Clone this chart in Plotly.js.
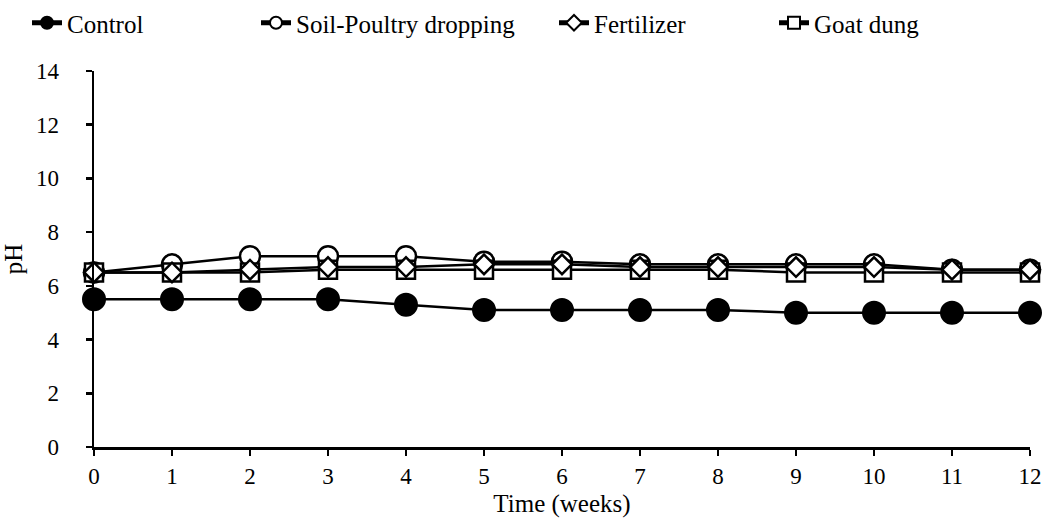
<!DOCTYPE html>
<html>
<head>
<meta charset="utf-8">
<script src="https://cdn.plot.ly/plotly-3.0.1.min.js"></script>
<style>
html,body{margin:0;padding:0;background:#fff;}
#chart{width:1052px;height:527px;}
</style>
</head>
<body>
<div id="chart"></div>
<script>
const weeks = [0,1,2,3,4,5,6,7,8,9,10,11,12];
const control = [5.5,5.5,5.5,5.5,5.3,5.1,5.1,5.1,5.1,5.0,5.0,5.0,5.0];
const soilPoultry = [6.5,6.8,7.1,7.1,7.1,6.9,6.9,6.8,6.8,6.8,6.8,6.6,6.6];
const fertilizer = [6.5,6.5,6.6,6.7,6.7,6.8,6.8,6.7,6.7,6.7,6.7,6.6,6.6];
const goatDung = [6.5,6.5,6.5,6.6,6.6,6.6,6.6,6.6,6.6,6.5,6.5,6.5,6.5];
const yTicks = [0,2,4,6,8,10,12,14];

const FONT = 'Liberation Serif, Times New Roman, serif';
const lineStyle = {color:'#000', width:2.5};

const traces = [
  {x:weeks, y:control, name:'Control', mode:'lines+markers', line:lineStyle,
   marker:{symbol:'circle', size:22, color:'#000', line:{color:'#000', width:2}}, legend:'legend', cliponaxis:false},
  {x:weeks, y:soilPoultry, name:'Soil-Poultry dropping', mode:'lines+markers', line:lineStyle,
   marker:{symbol:'circle', size:20, color:'#fff', line:{color:'#000', width:2.5}}, legend:'legend2', cliponaxis:false},
  {x:weeks, y:goatDung, name:'Goat dung', mode:'lines+markers', line:lineStyle,
   marker:{symbol:'square', size:18, color:'#fff', line:{color:'#000', width:2.5}}, legend:'legend4', cliponaxis:false},
  {x:weeks, y:fertilizer, name:'Fertilizer', mode:'lines+markers', line:lineStyle,
   marker:{symbol:'diamond', size:15, color:'#fff', line:{color:'#000', width:2.5}}, legend:'legend3', cliponaxis:false}
];

function lg(px){
  return {x:px/1052, xref:'container', y:1, yref:'container', yanchor:'top', xanchor:'left',
    orientation:'h', bgcolor:'rgba(0,0,0,0)', font:{family:FONT, size:25, color:'#000'},
    itemsizing:'constant'};
}

const layout = {
  width:1052, height:527,
  paper_bgcolor:'#fff', plot_bgcolor:'#fff',
  margin:{l:94, r:22, t:71, b:80},
  font:{family:FONT, color:'#000', size:22},
  showlegend:true,
  legend:lg(27), legend2:lg(256), legend3:lg(554), legend4:lg(774),
  xaxis:{range:[0,12], tickvals:weeks, showline:true, linecolor:'#000', linewidth:2.5,
    ticks:'outside', ticklen:6, tickwidth:2.5, tickcolor:'#000', showgrid:false, zeroline:false,
    tickfont:{family:FONT, size:23, color:'#000'}, ticklabelstandoff:1,
    title:{text:'Time (weeks)', font:{family:FONT, size:25, color:'#000'}, standoff:7}},
  yaxis:{range:[0,14], tickvals:yTicks, showline:true, linecolor:'#000', linewidth:2.5,
    ticks:'outside', ticklen:6, tickwidth:2.5, tickcolor:'#000', showgrid:false, zeroline:false,
    tickfont:{family:FONT, size:23, color:'#000'}, ticklabelstandoff:22,
    title:{text:'pH', font:{family:FONT, size:25, color:'#000'}, standoff:10}}
};

Plotly.newPlot('chart', traces, layout, {displayModeBar:false, staticPlot:true});
</script>
</body>
</html>
